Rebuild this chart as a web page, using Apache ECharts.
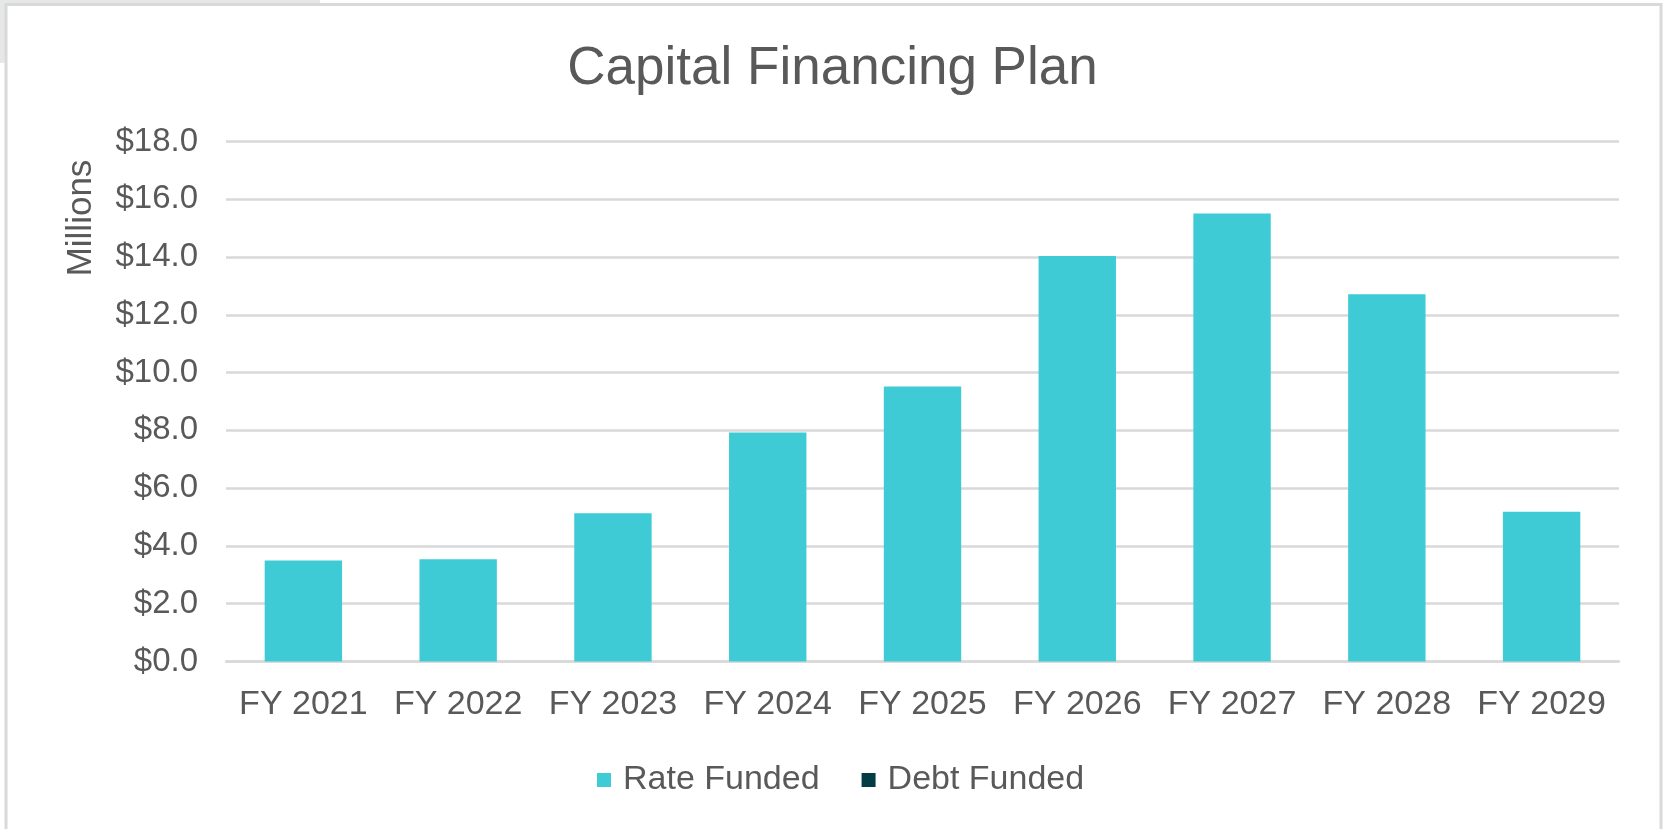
<!DOCTYPE html>
<html>
<head>
<meta charset="utf-8">
<script src="https://cdn.jsdelivr.net/npm/echarts@6/dist/echarts.min.js"></script>
<style>
html,body{margin:0;padding:0;background:#fff;}
#chart{width:1665px;height:829px;}
</style>
</head>
<body>
<div id="chart"></div>
<script>
var categories = ['FY 2021','FY 2022','FY 2023','FY 2024','FY 2025','FY 2026','FY 2027','FY 2028','FY 2029'];
var rateFunded = [3.50, 3.54, 5.13, 7.93, 9.52, 14.04, 15.51, 12.71, 5.18];
var debtFunded = [0, 0, 0, 0, 0, 0, 0, 0, 0];
var seriesNames = ['Rate Funded', 'Debt Funded'];
var titleText = 'Capital Financing Plan';
var yAxisTitle = 'Millions';

var FONT = "'Liberation Sans', Arial, sans-serif";
var TXT = '#595959';
var chart = echarts.init(document.getElementById('chart'));
chart.setOption({
  backgroundColor: '#ffffff',
  animation: false,
  title: {
    text: titleText,
    left: 'center',
    top: 38,
    textStyle: { fontFamily: FONT, fontSize: 53, fontWeight: 'normal', color: TXT }
  },
  legend: {
    data: seriesNames,
    left: 592,
    top: 758,
    itemWidth: 14,
    itemHeight: 14,
    itemGap: 42,
    icon: 'rect',
    textStyle: { fontFamily: FONT, fontSize: 34, color: TXT, padding: [0, 0, 0, 7] }
  },
  grid: { left: 226, right: 46, top: 141.5, bottom: 167.5 },
  xAxis: {
    type: 'category',
    data: categories,
    axisLine: { show: true, lineStyle: { color: '#d9d9d9', width: 2.5 } },
    axisTick: { show: false },
    axisLabel: { fontFamily: FONT, fontSize: 34, color: TXT, margin: 26, interval: 0 }
  },
  yAxis: {
    type: 'value',
    min: 0, max: 18, interval: 2,
    axisLine: { show: false },
    axisTick: { show: false },
    splitLine: { lineStyle: { color: '#d9d9d9', width: 2.5 } },
    axisLabel: {
      fontFamily: FONT, fontSize: 33, color: TXT, margin: 28,
      formatter: function (v) { return '$' + v.toFixed(1); }
    }
  },
  graphic: [
    { type: 'rect', shape: { x: 0, y: 0, width: 320, height: 4 }, style: { fill: '#e6e7e7' }, silent: true },
    { type: 'rect', shape: { x: 0, y: 0, width: 5, height: 63 }, style: { fill: '#e6e7e7' }, silent: true },
    { type: 'rect', shape: { x: 6, y: 4.5, width: 1655, height: 840 }, style: { fill: 'none', stroke: '#d9d9d9', lineWidth: 3 }, silent: true },
    {
      type: 'text', x: 81, y: 218, rotation: Math.PI / 2,
      style: { text: yAxisTitle, font: '35px ' + FONT, fill: TXT, textAlign: 'center', textVerticalAlign: 'middle' },
      silent: true
    }
  ],
  series: [
    {
      name: seriesNames[0], type: 'bar', stack: 'total', data: rateFunded,
      barCategoryGap: '50%',
      itemStyle: { color: '#3ecbd5' }
    },
    {
      name: seriesNames[1], type: 'bar', stack: 'total', data: debtFunded,
      barCategoryGap: '50%',
      itemStyle: { color: '#023c45' }
    }
  ]
});
</script>
</body>
</html>
